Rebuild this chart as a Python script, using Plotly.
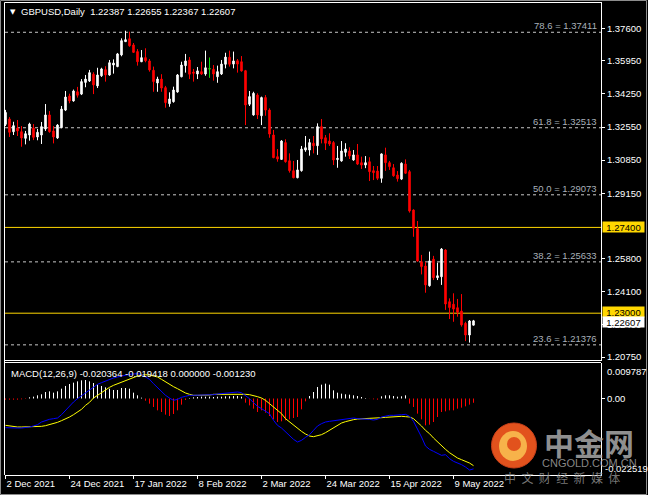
import plotly.graph_objects as go
import pandas as pd

# ---------------- data ----------------
dates = [d.strftime("%Y-%m-%d") for d in pd.bdate_range("2021-12-02", "2022-05-16")]

opens = [1.3269, 1.3296, 1.3231, 1.3250, 1.3231, 1.3197, 1.3214, 1.3250, 1.3204, 1.3214,
         1.3245, 1.3317, 1.3235, 1.3199, 1.3252, 1.3342, 1.3414, 1.3389, 1.3436, 1.3424,
         1.3484, 1.3491, 1.3526, 1.3466, 1.3518, 1.3549, 1.3522, 1.3573, 1.3565, 1.3625,
         1.3693, 1.3708, 1.3676, 1.3642, 1.3590, 1.3611, 1.3594, 1.3546, 1.3481, 1.3501,
         1.3457, 1.3375, 1.3385, 1.3435, 1.3513, 1.3570, 1.3599, 1.3537, 1.3527, 1.3539,
         1.3527, 1.3554, 1.3551, 1.3513, 1.3527, 1.3577, 1.3613, 1.3578, 1.3595, 1.3590,
         1.3544, 1.3372, 1.3317, 1.3419, 1.3313, 1.3406, 1.3342, 1.3214, 1.3103, 1.3089,
         1.3175, 1.3082, 1.3031, 1.2995, 1.3031, 1.3137, 1.3137, 1.3172, 1.3159, 1.3257,
         1.3200, 1.3183, 1.3175, 1.3088, 1.3081, 1.3125, 1.3132, 1.3086, 1.3112, 1.3072,
         1.3060, 1.3077, 1.3031, 1.3029, 1.2992, 1.3112, 1.3072, 1.3046, 1.3009, 1.2988,
         1.3065, 1.3026, 1.2829, 1.2734, 1.2564, 1.2542, 1.2441, 1.2577, 1.2482, 1.2487,
         1.2624, 1.2359, 1.2346, 1.2328, 1.2311, 1.2248, 1.2188, 1.22387]
highs = [1.3343, 1.3306, 1.3282, 1.3291, 1.3260, 1.3235, 1.3277, 1.3270, 1.3245, 1.3281,
         1.3373, 1.3337, 1.3260, 1.3270, 1.3363, 1.3440, 1.3426, 1.3447, 1.3461, 1.3501,
         1.3522, 1.3548, 1.3536, 1.3559, 1.3559, 1.3567, 1.3599, 1.3602, 1.3635, 1.3710,
         1.3749, 1.3744, 1.3686, 1.3655, 1.3650, 1.3659, 1.3604, 1.3565, 1.3513, 1.3526,
         1.3466, 1.3433, 1.3462, 1.3527, 1.3590, 1.3630, 1.3614, 1.3553, 1.3563, 1.3590,
         1.3647, 1.3611, 1.3573, 1.3570, 1.3599, 1.3636, 1.3647, 1.3642, 1.3604, 1.3619,
         1.3548, 1.3440, 1.3436, 1.3428, 1.3411, 1.3419, 1.3351, 1.3240, 1.3142, 1.3188,
         1.3192, 1.3120, 1.3081, 1.3086, 1.3158, 1.3209, 1.3194, 1.3209, 1.3274, 1.3296,
         1.3214, 1.3223, 1.3183, 1.3158, 1.3183, 1.3172, 1.3151, 1.3137, 1.3168, 1.3103,
         1.3106, 1.3100, 1.3055, 1.3055, 1.3120, 1.3149, 1.3081, 1.3065, 1.3029, 1.3074,
         1.3089, 1.3035, 1.2833, 1.2773, 1.2599, 1.2564, 1.2616, 1.2594, 1.2559, 1.2634,
         1.2628, 1.2376, 1.2402, 1.2373, 1.2398, 1.2256, 1.2265, 1.22655]
lows = [1.3260, 1.3204, 1.3214, 1.3209, 1.3154, 1.3166, 1.3185, 1.3188, 1.3187, 1.3168,
        1.3235, 1.3226, 1.3171, 1.3194, 1.3249, 1.3337, 1.3377, 1.3385, 1.3406, 1.3419,
        1.3459, 1.3486, 1.3424, 1.3455, 1.3512, 1.3488, 1.3518, 1.3529, 1.3562, 1.3618,
        1.3693, 1.3667, 1.3635, 1.3570, 1.3588, 1.3587, 1.3539, 1.3436, 1.3436, 1.3436,
        1.3354, 1.3359, 1.3380, 1.3431, 1.3510, 1.3534, 1.3501, 1.3488, 1.3501, 1.3522,
        1.3518, 1.3508, 1.3493, 1.3482, 1.3522, 1.3556, 1.3565, 1.3556, 1.3534, 1.3539,
        1.3265, 1.3363, 1.3313, 1.3296, 1.3265, 1.3313, 1.3200, 1.3095, 1.3077, 1.3087,
        1.3072, 1.3021, 1.2992, 1.2992, 1.3026, 1.3128, 1.3108, 1.3120, 1.3112, 1.3171,
        1.3137, 1.3158, 1.3060, 1.3046, 1.3077, 1.3103, 1.3091, 1.3082, 1.3060, 1.3040,
        1.3044, 1.2978, 1.2983, 1.2983, 1.2969, 1.3030, 1.3035, 1.3000, 1.2975, 1.2983,
        1.3014, 1.2816, 1.2692, 1.2564, 1.2499, 1.2405, 1.2436, 1.2470, 1.2470, 1.2445,
        1.2317, 1.2270, 1.2256, 1.2282, 1.2231, 1.2157, 1.2149, 1.22367]
closes = [1.3330, 1.3228, 1.3262, 1.3235, 1.3199, 1.3221, 1.3270, 1.3202, 1.3228, 1.3257,
          1.3317, 1.3231, 1.3204, 1.3265, 1.3347, 1.3409, 1.3389, 1.3440, 1.3418, 1.3488,
          1.3501, 1.3534, 1.3471, 1.3522, 1.3553, 1.3522, 1.3585, 1.3583, 1.3630, 1.3698,
          1.3703, 1.3672, 1.3638, 1.3590, 1.3611, 1.3595, 1.3548, 1.3488, 1.3501, 1.3455,
          1.3380, 1.3399, 1.3445, 1.3522, 1.3573, 1.3594, 1.3526, 1.3531, 1.3543, 1.3527,
          1.3559, 1.3554, 1.3527, 1.3539, 1.3578, 1.3614, 1.3577, 1.3594, 1.3578, 1.3543,
          1.3368, 1.3411, 1.3428, 1.3317, 1.3406, 1.3342, 1.3219, 1.3098, 1.3091, 1.3183,
          1.3077, 1.3031, 1.2995, 1.3035, 1.3142, 1.3149, 1.3175, 1.3159, 1.3257, 1.3194,
          1.3172, 1.3168, 1.3086, 1.3094, 1.3132, 1.3142, 1.3106, 1.3112, 1.3065, 1.3060,
          1.3072, 1.3026, 1.3021, 1.2992, 1.3117, 1.3072, 1.3052, 1.3005, 1.2990, 1.3069,
          1.3018, 1.2824, 1.2736, 1.2568, 1.2539, 1.2445, 1.2568, 1.2482, 1.2492, 1.2629,
          1.2347, 1.2329, 1.2321, 1.2305, 1.2240, 1.2188, 1.2260, 1.22607]

macd_main = [-0.00843, -0.00853, -0.00853, -0.00853, -0.00853, -0.00843, -0.00824, -0.00795, -0.00757, -0.00680,
             -0.00631, -0.00602, -0.00583, -0.00564, -0.00468, -0.00342, -0.00227, -0.00101, -0.00005, 0.00082,
             0.00169, 0.00255, 0.00342, 0.00410, 0.00458, 0.00506, 0.00545, 0.00593, 0.00622, 0.00651,
             0.00680, 0.00699, 0.00709, 0.00718, 0.00689, 0.00622, 0.00554, 0.00429, 0.00313, 0.00188,
             0.00092, 0.00014, -0.00053, -0.00024, 0.00034, 0.00063, 0.00092, 0.00092, 0.00092, 0.00092,
             0.00101, 0.00101, 0.00111, 0.00130, 0.00140, 0.00159, 0.00178, 0.00188, 0.00188, 0.00169,
             0.00092, -0.00005, -0.00121, -0.00227, -0.00294, -0.00362, -0.00439, -0.00631, -0.00776, -0.00853,
             -0.00969, -0.01065, -0.01181, -0.01258, -0.01210, -0.01123, -0.01046, -0.00921, -0.00795, -0.00728,
             -0.00680, -0.00660, -0.00641, -0.00622, -0.00612, -0.00583, -0.00564, -0.00564, -0.00583, -0.00583,
             -0.00583, -0.00602, -0.00622, -0.00602, -0.00535, -0.00506, -0.00487, -0.00487, -0.00487, -0.00468,
             -0.00458, -0.00516, -0.00660, -0.00872, -0.01113, -0.01374, -0.01470, -0.01528, -0.01596, -0.01644,
             -0.01624, -0.01740, -0.01817, -0.01856, -0.01913, -0.01981, -0.02068, -0.020364]
macd_signal = [-0.00776, -0.00795, -0.00815, -0.00824, -0.00824, -0.00824, -0.00824, -0.00824, -0.00815, -0.00805,
               -0.00786, -0.00757, -0.00728, -0.00689, -0.00641, -0.00593, -0.00535, -0.00468, -0.00390, -0.00313,
               -0.00198, -0.00111, 0.00014, 0.00092, 0.00188, 0.00265, 0.00323, 0.00381, 0.00429, 0.00468,
               0.00506, 0.00554, 0.00603, 0.00651, 0.00670, 0.00689, 0.00680, 0.00651, 0.00622, 0.00554,
               0.00477, 0.00410, 0.00342, 0.00284, 0.00217, 0.00159, 0.00121, 0.00092, 0.00092, 0.00092,
               0.00092, 0.00101, 0.00121, 0.00121, 0.00130, 0.00130, 0.00130, 0.00140, 0.00140, 0.00130,
               0.00121, 0.00111, 0.00092, 0.00053, 0.00014, -0.00053, -0.00149, -0.00246, -0.00342, -0.00439,
               -0.00583, -0.00680, -0.00776, -0.00853, -0.00950, -0.01027, -0.01085, -0.01104, -0.01085, -0.01046,
               -0.00988, -0.00921, -0.00853, -0.00776, -0.00709, -0.00670, -0.00631, -0.00612, -0.00593, -0.00583,
               -0.00583, -0.00583, -0.00574, -0.00564, -0.00554, -0.00545, -0.00535, -0.00525, -0.00516, -0.00516,
               -0.00525, -0.00535, -0.00583, -0.00680, -0.00795, -0.00921, -0.01017, -0.01142, -0.01258, -0.01354,
               -0.01470, -0.01567, -0.01644, -0.01721, -0.01769, -0.01817, -0.01866, -0.019418]
macd_hist = [-0.00034, -0.00034, -0.00034, -0.00034, -0.00024, -0.00014, 0.00034, 0.00053, 0.00092, 0.00121,
             0.00188, 0.00207, 0.00169, 0.00207, 0.00284, 0.00362, 0.00419, 0.00458, 0.00496, 0.00525,
             0.00535, 0.00496, 0.00448, 0.00400, 0.00362, 0.00323, 0.00284, 0.00246, 0.00246, 0.00304,
             0.00304, 0.00284, 0.00169, 0.00092, 0.00024, -0.00063, -0.00149, -0.00246, -0.00342, -0.00390,
             -0.00467, -0.00506, -0.00448, -0.00342, -0.00178, -0.00043, 0.00014, 0.00034, 0.00043, 0.00053,
             0.00053, 0.00053, 0.00043, 0.00053, 0.00053, 0.00063, 0.00063, 0.00072, 0.00072, 0.00053,
             -0.00121, -0.00198, -0.00294, -0.00390, -0.00342, -0.00410, -0.00506, -0.00603, -0.00680, -0.00660,
             -0.00631, -0.00603, -0.00564, -0.00535, -0.00313, -0.00082, 0.00072, 0.00188, 0.00333, 0.00400,
             0.00429, 0.00400, 0.00236, 0.00169, 0.00140, 0.00121, 0.00111, 0.00092, 0.00072, 0.00043,
             0.00014, -0.00005, -0.00024, -0.00034, 0.00063, 0.00092, 0.00092, 0.00072, 0.00053, 0.00063,
             0.00092, -0.00149, -0.00246, -0.00438, -0.00603, -0.00776, -0.00757, -0.00680, -0.00535, -0.00390,
             -0.00371, -0.00342, -0.00342, -0.00294, -0.00265, -0.00227, -0.00178, -0.00123]

fib_levels = [78.6, 61.8, 50.0, 38.2, 23.6]
fib_prices = [1.37411, 1.32513, 1.29073, 1.25633, 1.21376]
gold_lines = [1.27400, 1.23000]
last_price = 1.22607
price_ticks = [1.37600, 1.35950, 1.34250, 1.32550, 1.30850, 1.29150, 1.25800, 1.24100, 1.22400, 1.20750]
date_tick_labels = ["2 Dec 2021", "24 Dec 2021", "17 Jan 2022", "8 Feb 2022",
                    "2 Mar 2022", "24 Mar 2022", "15 Apr 2022", "9 May 2022"]
date_tick_vals = dates[::16]
macd_top_label, macd_bottom_label = 0.009787, -0.022519
header = "GBPUSD,Daily  1.22387 1.22655 1.22367 1.22607"
macd_header = "MACD(12,26,9) -0.020364 -0.019418 0.000000 -0.001230"

# ---------------- layout helpers ----------------
W, H = 648, 495
L, R, T, B = 5, 47, 2, 20
PW, PH = W - L - R, H - T - B


def px(x):
    return (x - L) / PW


def py(y):
    return (H - B - y) / PH


FONT = "Liberation Sans, Arial, sans-serif"
main_dom = [py(360.5), 1.0]
macd_dom = [0.0, py(362.5)]

fig = go.Figure()

# candles
fig.add_trace(go.Candlestick(
    x=dates, open=opens, high=highs, low=lows, close=closes,
    increasing=dict(line=dict(color="#ffffff", width=1), fillcolor="#ffffff"),
    decreasing=dict(line=dict(color="#ff0000", width=1), fillcolor="#ff0000"),
    whiskerwidth=0, showlegend=False, hoverinfo="skip", xaxis="x", yaxis="y"))

doji_x = [d for d, o, c in zip(dates, opens, closes) if o == c]
doji = [(o, h, l, c) for o, h, l, c in zip(opens, highs, lows, closes) if o == c]
if doji_x:
    fig.add_trace(go.Candlestick(
        x=doji_x, open=[d[0] for d in doji], high=[d[1] for d in doji],
        low=[d[2] for d in doji], close=[d[3] for d in doji],
        increasing=dict(line=dict(color="#00e000", width=1), fillcolor="#00e000"),
        decreasing=dict(line=dict(color="#00e000", width=1), fillcolor="#00e000"),
        whiskerwidth=0, showlegend=False, hoverinfo="skip", xaxis="x", yaxis="y"))


# MACD histogram as thin vertical sticks (white above zero, red below)
def sticks(sign_ok):
    xs, ys = [], []
    for d, v in zip(dates, macd_hist):
        if sign_ok(v):
            xs += [d, d, None]
            ys += [0, v, None]
    return xs, ys


for ok, col in [(lambda v: v >= 0, "#ffffff"), (lambda v: v < 0, "#ff0000")]:
    xs, ys = sticks(ok)
    fig.add_trace(go.Scatter(x=xs, y=ys, mode="lines", line=dict(color=col, width=1),
                             connectgaps=False, showlegend=False, hoverinfo="skip",
                             xaxis="x", yaxis="y2"))

fig.add_trace(go.Scatter(x=dates, y=macd_signal, mode="lines",
                         line=dict(color="#ffff00", width=1), showlegend=False,
                         hoverinfo="skip", xaxis="x", yaxis="y2"))
fig.add_trace(go.Scatter(x=dates, y=macd_main, mode="lines",
                         line=dict(color="#0000ff", width=1), showlegend=False,
                         hoverinfo="skip", xaxis="x", yaxis="y2"))

shapes = []
annotations = []

# fibonacci dashed lines and labels
for lvl, p in zip(fib_levels, fib_prices):
    shapes.append(dict(type="line", xref="paper", yref="y", x0=0, x1=1, y0=p, y1=p,
                       line=dict(color="#c8c8c8", width=1, dash="3px,3px"), layer="below"))
    annotations.append(dict(xref="paper", yref="y", x=1, y=p, xanchor="right", yanchor="bottom",
                            xshift=-2, yshift=-1, showarrow=False, text=f"{lvl:.1f} = {p:.5f}",
                            font=dict(family=FONT, size=9.5, color="#a9b1ba")))

# gold horizontal lines
for p in gold_lines:
    shapes.append(dict(type="line", xref="paper", yref="y", x0=0, x1=1, y0=p, y1=p,
                       line=dict(color="#ffd700", width=1), layer="below"))

# price label boxes on the axis
for p, shift in zip(gold_lines, [0, 1.5]):
    annotations.append(dict(xref="paper", yref="y", x=1, y=p, xanchor="left", yanchor="middle",
                            xshift=1, yshift=shift, showarrow=False, text=f"{p:.5f}",
                            bgcolor="#ffd700", borderpad=0, width=41, height=10, align="center",
                            font=dict(family=FONT, size=9.5, color="#000000")))
annotations.append(dict(xref="paper", yref="y", x=1, y=last_price, xanchor="left", yanchor="middle",
                        xshift=1, yshift=-1, showarrow=False, text=f"{last_price:.5f}",
                        bgcolor="#ffffff", borderpad=0, width=41, height=10, align="center",
                        font=dict(family=FONT, size=9.5, color="#000000")))

# MACD scale labels
annotations.append(dict(xref="paper", yref="paper", x=1, y=py(371), xanchor="left", yanchor="middle",
                        xshift=4, showarrow=False, text=f"{macd_top_label:.6f}",
                        font=dict(family=FONT, size=9.5, color="#ffffff")))
annotations.append(dict(xref="paper", yref="paper", x=1, y=py(468), xanchor="left", yanchor="middle",
                        xshift=2, showarrow=False, text=f"{macd_bottom_label:.6f}",
                        font=dict(family=FONT, size=9.5, color="#ffffff")))

# headers
annotations.append(dict(xref="paper", yref="paper", x=px(8), y=py(11.5), xanchor="left", yanchor="middle",
                        showarrow=False, text="▼", font=dict(family="DejaVu Sans", size=7, color="#ffffff")))
annotations.append(dict(xref="paper", yref="paper", x=px(19), y=py(11.5), xanchor="left", yanchor="middle",
                        showarrow=False, text=header.replace("  ", "&nbsp; "),
                        font=dict(family=FONT, size=9.5, color="#ffffff")))
annotations.append(dict(xref="paper", yref="paper", x=px(9), y=py(373.5), xanchor="left", yanchor="middle",
                        showarrow=False, text=macd_header,
                        font=dict(family=FONT, size=9.5, color="#ffffff")))

# panel frames
white = dict(color="#ffffff", width=1)
shapes += [
    dict(type="line", xref="paper", yref="paper", x0=px(4.5), x1=px(601), y0=py(360.5), y1=py(360.5), line=white),
    dict(type="line", xref="paper", yref="paper", x0=px(4.5), x1=px(601), y0=py(362.5), y1=py(362.5), line=white),
    dict(type="line", xref="paper", yref="paper", x0=px(4.5), x1=px(601), y0=py(2.5), y1=py(2.5), line=white),
    dict(type="line", xref="paper", yref="paper", x0=px(4.5), x1=px(4.5), y0=py(2.5), y1=py(475), line=white),
    dict(type="rect", xref="paper", yref="paper", x0=px(0.5), x1=px(646.5), y0=py(494.5), y1=py(0.5),
         line=dict(color="#8c8c8c", width=1)),
]

# watermark logo
shapes += [
    dict(type="circle", xref="paper", yref="paper", x0=px(491.5), x1=px(536.5), y0=py(468), y1=py(423),
         fillcolor="#e2521d", line=dict(color="#c8401a", width=1), layer="above"),
    dict(type="circle", xref="paper", yref="paper", x0=px(499), x1=px(527), y0=py(461), y1=py(431),
         fillcolor="#f7b24a", line=dict(width=0), layer="above"),
    dict(type="circle", xref="paper", yref="paper", x0=px(507), x1=px(521), y0=py(451), y1=py(437),
         fillcolor="#e2521d", line=dict(width=0), layer="above"),
]
annotations.append(dict(xref="paper", yref="paper", x=px(589), y=py(442), xanchor="center", yanchor="middle",
                        showarrow=False, text="<b>中金网</b>",
                        font=dict(family="Noto Sans CJK SC", size=30, color="rgba(170,170,170,0.85)")))
annotations.append(dict(xref="paper", yref="paper", x=px(589), y=py(463), xanchor="center", yanchor="middle",
                        showarrow=False, text="CNGOLD.COM.CN",
                        font=dict(family=FONT, size=11, color="rgba(160,160,160,0.85)")))
annotations.append(dict(xref="paper", yref="paper", x=px(562), y=py(477), xanchor="center", yanchor="middle",
                        showarrow=False, text="中&nbsp; 文&nbsp; 财&nbsp; 经&nbsp; 新&nbsp; 媒&nbsp; 体",
                        font=dict(family="Noto Sans CJK SC", size=12, color="rgba(150,150,150,0.8)")))

fig.update_layout(
    width=W, height=H, margin=dict(l=L, r=R, t=T, b=B, autoexpand=False),
    paper_bgcolor="#000000", plot_bgcolor="#000000",
    showlegend=False, boxgap=0.45,
    shapes=shapes, annotations=annotations,
    xaxis=dict(type="category", categoryorder="array", categoryarray=dates,
               range=[-0.125, 148.875], domain=[0, 1], anchor="y2",
               rangeslider=dict(visible=False), showgrid=False, zeroline=False,
               showline=True, linecolor="#ffffff", linewidth=1,
               ticks="outside", ticklen=3, tickcolor="#ffffff",
               tickvals=date_tick_vals, ticktext=date_tick_labels,
               ticklabelposition="outside right",
               tickfont=dict(family=FONT, size=9.5, color="#ffffff")),
    yaxis=dict(domain=main_dom, range=[1.20573, 1.38964], side="right", anchor="x",
               showgrid=False, zeroline=False, showline=True, linecolor="#ffffff", linewidth=1,
               ticks="outside", ticklen=3, tickcolor="#ffffff",
               tickvals=price_ticks, ticktext=[f"{v:.5f}" for v in price_ticks],
               tickfont=dict(family=FONT, size=9.5, color="#ffffff")),
    yaxis2=dict(domain=macd_dom, range=[-0.022123, 0.010411], side="right", anchor="x",
                showgrid=False, zeroline=False, showline=True, linecolor="#ffffff", linewidth=1,
                ticks="outside", ticklen=3, tickcolor="#ffffff",
                tickvals=[0], ticktext=["0.00"],
                tickfont=dict(family=FONT, size=9.5, color="#ffffff")),
)

fig.write_html("out.html", config={"displayModeBar": False},
               post_script="document.body.style.margin='0';document.body.style.overflow='hidden';"
                           "document.body.style.background='#000';")
